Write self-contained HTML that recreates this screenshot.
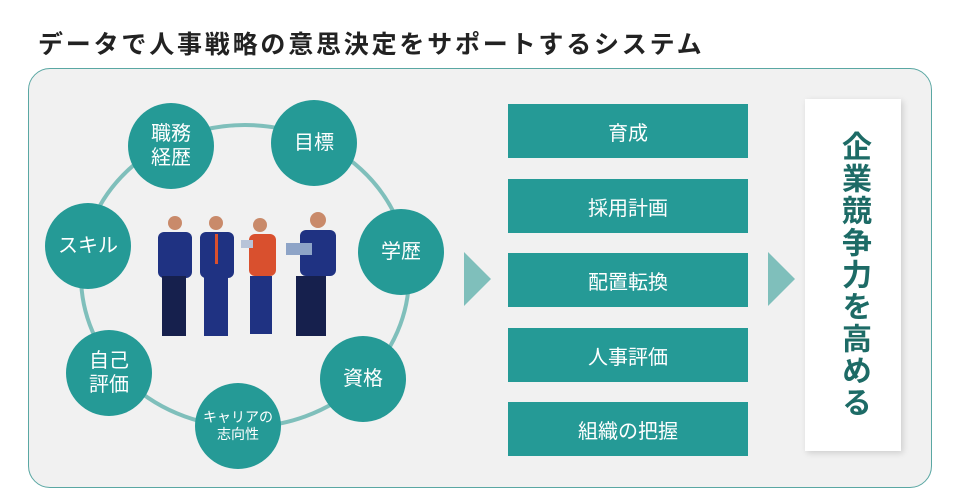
<!DOCTYPE html>
<html><head><meta charset="utf-8"><style>
body{margin:0;width:960px;height:504px;background:#fff;overflow:hidden;font-family:"Liberation Sans","Noto Sans CJK JP",sans-serif;position:relative}
.t{position:absolute;left:38px;top:25px;font-size:25px;font-weight:bold;color:#222;letter-spacing:2.8px}
.panel{position:absolute;left:28px;top:68px;width:904px;height:420px;background:#f1f1f1;border:1.5px solid #5aa7a3;border-radius:22px;box-sizing:border-box}
.c{position:absolute;width:86px;height:86px;border-radius:50%;background:#259a96;color:#fff;display:flex;align-items:center;justify-content:center;text-align:center;font-size:20px;line-height:1.2}
.b{position:absolute;left:508px;width:240px;height:54px;background:#259a96;color:#fff;font-size:20px;display:flex;align-items:center;justify-content:center}
.w{position:absolute;left:805px;top:99px;width:96px;height:352px;background:#fff;box-shadow:2px 2px 6px rgba(0,0,0,.15);display:flex;align-items:center;justify-content:center;writing-mode:vertical-rl;font-size:30px;font-weight:bold;color:#1d6b66;letter-spacing:2px}
</style></head><body>
<div class="t">データで人事戦略の意思決定をサポートするシステム</div>
<div class="panel"></div>
<svg style="position:absolute;left:0;top:0" width="960" height="504">
<ellipse cx="245" cy="276" rx="164" ry="151" fill="none" stroke="#7fbfbb" stroke-width="4"/>
<polygon points="464,252 491,279 464,306" fill="#7fbfbb"/>
<polygon points="768,252 795,279 768,306" fill="#7fbfbb"/>
<g>
<circle cx="175" cy="223" r="7" fill="#c98a6a"/><rect x="158" y="232" width="34" height="46" rx="6" fill="#1f3282"/><rect x="162" y="276" width="24" height="60" fill="#16204d"/>
<circle cx="216" cy="223" r="7" fill="#c98a6a"/><rect x="200" y="232" width="34" height="46" rx="6" fill="#1f3282"/><rect x="204" y="276" width="24" height="60" fill="#1f3282"/><rect x="215" y="234" width="3" height="30" fill="#d9502e"/>
<circle cx="260" cy="225" r="7" fill="#c98a6a"/><rect x="249" y="234" width="27" height="42" rx="6" fill="#d9502e"/><rect x="250" y="276" width="22" height="58" fill="#1f3282"/><rect x="241" y="240" width="12" height="8" fill="#b8c4d8"/>
<circle cx="318" cy="220" r="8" fill="#c98a6a"/><rect x="300" y="230" width="36" height="46" rx="6" fill="#1f3282"/><rect x="296" y="276" width="30" height="60" fill="#16204d"/><rect x="286" y="243" width="26" height="12" fill="#8ea4c7"/>
</g>
</svg>
<div class="c" style="left:128px;top:103px">職務<br>経歴</div>
<div class="c" style="left:271px;top:100px">目標</div>
<div class="c" style="left:358px;top:209px">学歴</div>
<div class="c" style="left:320px;top:336px">資格</div>
<div class="c" style="left:195px;top:383px;font-size:14px">キャリアの<br>志向性</div>
<div class="c" style="left:66px;top:330px">自己<br>評価</div>
<div class="c" style="left:45px;top:203px">スキル</div>
<div class="b" style="top:104px">育成</div>
<div class="b" style="top:179px">採用計画</div>
<div class="b" style="top:253px">配置転換</div>
<div class="b" style="top:328px">人事評価</div>
<div class="b" style="top:402px">組織の把握</div>
<div class="w">企業競争力を高める</div>
</body></html>
